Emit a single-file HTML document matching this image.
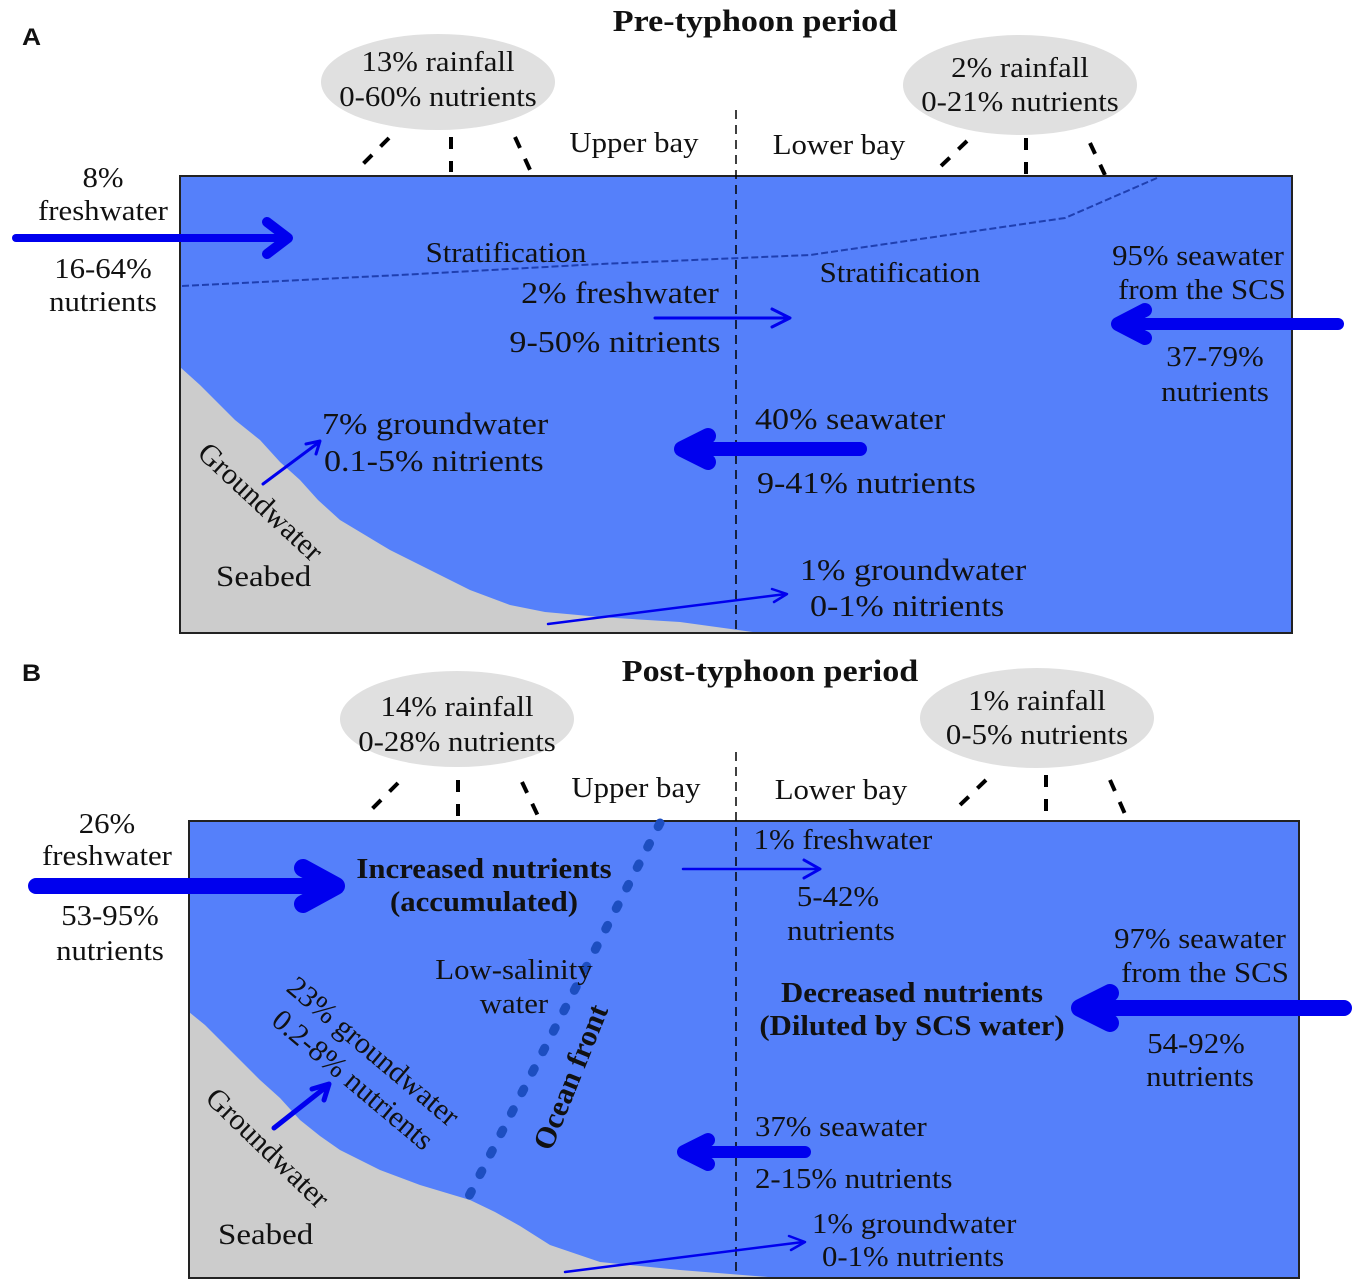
<!DOCTYPE html>
<html><head><meta charset="utf-8"><style>
html,body{margin:0;padding:0;background:#fff;}
svg{display:block;}
text{font-family:"Liberation Serif",serif;font-size:28px;fill:#111;}
text:not(.r){transform-box:fill-box;transform-origin:left center;transform:scaleX(1.1);}
text[text-anchor="middle"]{transform-origin:center center;}
.L{font-size:31px;}
.b{font-weight:bold;}
.s{font-family:"Liberation Sans",sans-serif;font-weight:bold;font-size:24px;}
</style></head><body>
<svg width="1358" height="1287" viewBox="0 0 1358 1287" xmlns="http://www.w3.org/2000/svg">
<!-- Panel A -->
<text x="22" y="45" class="s">A</text>
<text x="755" y="31" class="b" text-anchor="middle" style="font-size:31px">Pre-typhoon period</text>
<ellipse cx="438" cy="82" rx="117" ry="48" fill="#e0e0e0"/>
<text x="438" y="71" text-anchor="middle">13% rainfall</text>
<text x="438" y="106" text-anchor="middle">0-60% nutrients</text>
<ellipse cx="1020" cy="85" rx="117" ry="50" fill="#e0e0e0"/>
<text x="1020" y="77" text-anchor="middle">2% rainfall</text>
<text x="1020" y="111" text-anchor="middle">0-21% nutrients</text>
<g stroke="#000" stroke-width="4" stroke-dasharray="12 12">
<line x1="389" y1="138" x2="362" y2="165"/><line x1="451" y1="137" x2="451" y2="172"/><line x1="515" y1="137" x2="531" y2="172"/>
<line x1="967" y1="141" x2="940" y2="167"/><line x1="1026" y1="138" x2="1026" y2="175"/><line x1="1090" y1="143" x2="1105" y2="175"/>
</g>
<text x="634" y="152" text-anchor="middle">Upper bay</text>
<text x="839" y="154" text-anchor="middle">Lower bay</text>
<rect x="180" y="176" width="1112" height="457" fill="#5580fa" stroke="#222" stroke-width="2"/>
<polygon points="180,367 200,385 215,400 235,420 260,440 280,462 300,480 318,500 340,520 365,535 390,550 430,570 470,590 510,605 545,612 600,617 680,622 760,633 180,633" fill="#cccccc"/>
<line x1="180" y1="633" x2="1292" y2="633" stroke="#222" stroke-width="2"/>
<line x1="180" y1="176" x2="180" y2="633" stroke="#222" stroke-width="2"/>
<line x1="736" y1="110" x2="736" y2="630" stroke="#000" stroke-width="1.5" stroke-dasharray="9 6"/>
<path d="M182,286 L400,275 L600,264 L810,255 L1065,218 L1157,178" fill="none" stroke="#1f3fb0" stroke-width="2" stroke-dasharray="7 3"/>
<text x="103" y="187" text-anchor="middle">8%</text>
<text x="103" y="220" text-anchor="middle">freshwater</text>
<text x="103" y="278" text-anchor="middle">16-64%</text>
<text x="103" y="311" text-anchor="middle">nutrients</text>
<text x="506" y="262" text-anchor="middle">Stratification</text>
<text x="900" y="282" text-anchor="middle">Stratification</text>
<text x="620" y="303" class="L" text-anchor="middle">2% freshwater</text>
<text x="615" y="352" class="L" text-anchor="middle">9-50% nitrients</text>
<text x="1198" y="265" text-anchor="middle">95% seawater</text>
<text x="1202" y="299" text-anchor="middle">from the SCS</text>
<text x="1215" y="366" text-anchor="middle">37-79%</text>
<text x="1215" y="401" text-anchor="middle">nutrients</text>
<text x="322" y="434" class="L">7% groundwater</text>
<text x="324" y="471" class="L">0.1-5% nitrients</text>
<text x="755" y="429" class="L">40% seawater</text>
<text x="757" y="493" class="L">9-41% nutrients</text>
<text x="196" y="455" class="r" style="font-size:30px" transform="rotate(43 196 455)">Groundwater</text>
<text x="216" y="586" style="font-size:30px">Seabed</text>
<text x="800" y="580" class="L">1% groundwater</text>
<text x="810" y="616" class="L">0-1% nitrients</text>
<g stroke="#0000ee" stroke-linecap="round" stroke-linejoin="round" fill="#0000ee">
<line x1="16" y1="238" x2="285" y2="238" stroke-width="8"/>
<polyline points="267,222 288,238 267,254" fill="none" stroke-width="10"/>
<line x1="655" y1="318" x2="788" y2="318" stroke-width="3"/>
<polyline points="772,309 790,318 772,327" fill="none" stroke-width="3"/>
<line x1="1338" y1="324" x2="1122" y2="324" stroke-width="12"/>
<polyline points="1145,310 1118,324 1145,338" fill="none" stroke-width="14"/>
<line x1="860" y1="449" x2="690" y2="449" stroke-width="14"/>
<polyline points="708,436 682,449 708,462" fill="none" stroke-width="16"/>
<line x1="263" y1="484" x2="318" y2="443" stroke-width="3"/>
<polyline points="306,444 320,441 316,454" fill="none" stroke-width="3"/>
<line x1="548" y1="624" x2="786" y2="594" stroke-width="2.5"/>
<polyline points="772,589 787,594 774,602" fill="none" stroke-width="2.5"/>
</g>

<!-- Panel B -->
<text x="22" y="681" class="s">B</text>
<text x="770" y="681" class="b" text-anchor="middle" style="font-size:31px">Post-typhoon period</text>
<ellipse cx="457" cy="719" rx="117" ry="48" fill="#e0e0e0"/>
<text x="457" y="716" text-anchor="middle">14% rainfall</text>
<text x="457" y="751" text-anchor="middle">0-28% nutrients</text>
<ellipse cx="1037" cy="718" rx="117" ry="50" fill="#e0e0e0"/>
<text x="1037" y="710" text-anchor="middle">1% rainfall</text>
<text x="1037" y="744" text-anchor="middle">0-5% nutrients</text>
<g stroke="#000" stroke-width="4" stroke-dasharray="12 12">
<line x1="398" y1="783" x2="371" y2="810"/><line x1="458" y1="780" x2="458" y2="816"/><line x1="522" y1="782" x2="538" y2="816"/>
<line x1="986" y1="780" x2="959" y2="806"/><line x1="1046" y1="775" x2="1046" y2="814"/><line x1="1110" y1="780" x2="1125" y2="814"/>
</g>
<text x="636" y="797" text-anchor="middle">Upper bay</text>
<text x="841" y="799" text-anchor="middle">Lower bay</text>
<rect x="189" y="821" width="1110" height="457" fill="#5580fa" stroke="#222" stroke-width="2"/>
<polygon points="189,1012 205,1025 220,1040 240,1060 260,1080 280,1098 300,1120 320,1136 340,1150 360,1160 380,1170 420,1185 470,1200 495,1212 520,1226 550,1245 600,1262 680,1270 780,1278 189,1278" fill="#cccccc"/>
<line x1="189" y1="1278" x2="1299" y2="1278" stroke="#222" stroke-width="2"/>
<line x1="189" y1="821" x2="189" y2="1278" stroke="#222" stroke-width="2"/>
<line x1="736" y1="752" x2="736" y2="1275" stroke="#000" stroke-width="1.5" stroke-dasharray="9 6"/>
<line x1="660" y1="823" x2="467" y2="1200" stroke="#1d4ec0" stroke-width="9" stroke-linecap="round" stroke-dasharray="4 19"/>
<text x="107" y="833" text-anchor="middle">26%</text>
<text x="107" y="865" text-anchor="middle">freshwater</text>
<text x="110" y="925" text-anchor="middle">53-95%</text>
<text x="110" y="960" text-anchor="middle">nutrients</text>
<text x="484" y="878" class="b" text-anchor="middle">Increased nutrients</text>
<text x="484" y="911" class="b" text-anchor="middle">(accumulated)</text>
<text x="843" y="849" text-anchor="middle">1% freshwater</text>
<text x="838" y="906" text-anchor="middle">5-42%</text>
<text x="841" y="940" text-anchor="middle">nutrients</text>
<text x="514" y="979" text-anchor="middle">Low-salinity</text>
<text x="514" y="1013" text-anchor="middle">water</text>
<text x="912" y="1002" class="b" text-anchor="middle">Decreased nutrients</text>
<text x="912" y="1035" class="b" text-anchor="middle">(Diluted by SCS water)</text>
<text x="1200" y="948" text-anchor="middle">97% seawater</text>
<text x="1205" y="982" text-anchor="middle">from the SCS</text>
<text x="1196" y="1053" text-anchor="middle">54-92%</text>
<text x="1200" y="1086" text-anchor="middle">nutrients</text>
<text x="551" y="1152" class="b r" style="font-size:30px" transform="rotate(-68 551 1152)">Ocean front</text>
<text x="285" y="990" class="r" style="font-size:30px" transform="rotate(40 285 990)">23% groundwater</text>
<text x="270" y="1023" class="r" style="font-size:30px" transform="rotate(40 270 1023)">0.2-8% nutrients</text>
<text x="204" y="1100" class="r" style="font-size:30px" transform="rotate(44 204 1100)">Groundwater</text>
<text x="218" y="1244" style="font-size:30px">Seabed</text>
<text x="755" y="1136">37% seawater</text>
<text x="755" y="1188">2-15% nutrients</text>
<text x="812" y="1233">1% groundwater</text>
<text x="822" y="1266">0-1% nutrients</text>
<g stroke="#0000ee" stroke-linecap="round" stroke-linejoin="round" fill="#0000ee">
<line x1="36" y1="886" x2="330" y2="886" stroke-width="16"/>
<polyline points="303,868 336,886 303,904" fill="none" stroke-width="18"/>
<line x1="683" y1="869" x2="818" y2="869" stroke-width="2.5"/>
<polyline points="804,860 820,869 804,878" fill="none" stroke-width="3"/>
<line x1="1344" y1="1008" x2="1090" y2="1008" stroke-width="16"/>
<polyline points="1110,993 1080,1008 1110,1023" fill="none" stroke-width="18"/>
<line x1="805" y1="1152" x2="690" y2="1152" stroke-width="12"/>
<polyline points="708,1140 684,1152 708,1164" fill="none" stroke-width="14"/>
<line x1="274" y1="1128" x2="326" y2="1087" stroke-width="5"/>
<polyline points="312,1089 329,1084 324,1100" fill="none" stroke-width="5"/>
<line x1="565" y1="1272" x2="803" y2="1242" stroke-width="2.5"/>
<polyline points="789,1236 805,1242 791,1250" fill="none" stroke-width="2.5"/>
</g>
</svg>
</body></html>
